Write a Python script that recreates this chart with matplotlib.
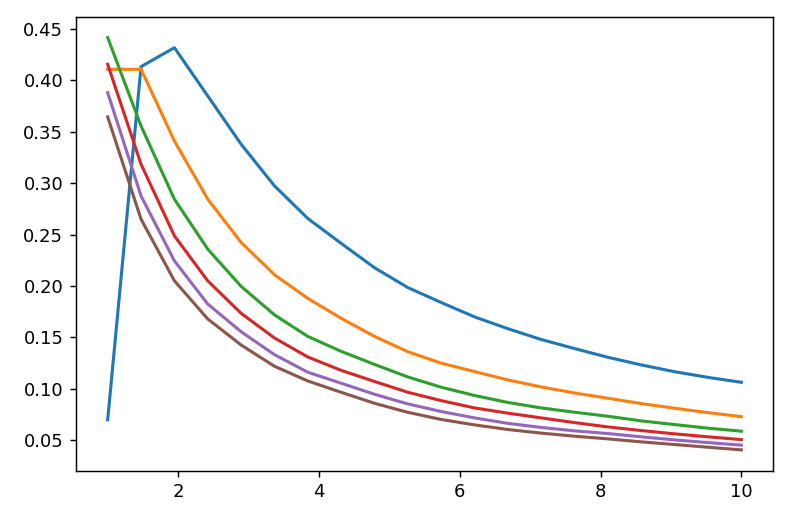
import matplotlib
matplotlib.use("Agg")
import matplotlib.pyplot as plt

x = [1.0, 1.4737, 1.9474, 2.4211, 2.8947, 3.3684, 3.8421, 4.3158, 4.7895, 5.2632,
     5.7368, 6.2105, 6.6842, 7.1579, 7.6316, 8.1053, 8.5789, 9.0526, 9.5263, 10.0]

s1 = [0.0700, 0.4133, 0.4317, 0.3848, 0.3379, 0.2974, 0.2657, 0.2415, 0.2178, 0.1985,
      0.1840, 0.1700, 0.1585, 0.1480, 0.1392, 0.1307, 0.1233, 0.1167, 0.1112, 0.1064]
s2 = [0.4107, 0.4107, 0.3410, 0.2844, 0.2424, 0.2110, 0.1880, 0.1686, 0.1510, 0.1361,
      0.1250, 0.1168, 0.1087, 0.1019, 0.0960, 0.0909, 0.0857, 0.0812, 0.0769, 0.0730]
s3 = [0.4415, 0.3556, 0.2844, 0.2359, 0.1997, 0.1720, 0.1510, 0.1365, 0.1238, 0.1116,
      0.1016, 0.0936, 0.0868, 0.0815, 0.0773, 0.0734, 0.0689, 0.0653, 0.0618, 0.0589]
s4 = [0.4155, 0.3184, 0.2488, 0.2050, 0.1735, 0.1495, 0.1310, 0.1180, 0.1072, 0.0967,
      0.0886, 0.0815, 0.0764, 0.0718, 0.0672, 0.0630, 0.0595, 0.0563, 0.0534, 0.0507]
s5 = [0.3880, 0.2876, 0.2245, 0.1825, 0.1556, 0.1333, 0.1162, 0.1055, 0.0948, 0.0854,
      0.0780, 0.0718, 0.0665, 0.0625, 0.0592, 0.0566, 0.0534, 0.0504, 0.0478, 0.0453]
s6 = [0.3644, 0.2650, 0.2051, 0.1680, 0.1427, 0.1220, 0.1077, 0.0967, 0.0860, 0.0772,
      0.0703, 0.0650, 0.0605, 0.0570, 0.0540, 0.0514, 0.0485, 0.0459, 0.0433, 0.0407]

series = [s1, s2, s3, s4, s5, s6]

dpi = 130
fig = plt.figure(figsize=(791 / dpi, 521 / dpi), dpi=dpi)
ax = fig.add_axes([76 / 791, 1 - 470.5 / 521, (773 - 76) / 791, (470.5 - 17) / 521])
for s in series:
    ax.plot(x, s, linewidth=1.7)
ax.set_yticks([0.05, 0.10, 0.15, 0.20, 0.25, 0.30, 0.35, 0.40, 0.45])
fig.savefig("out.png", dpi=dpi)
